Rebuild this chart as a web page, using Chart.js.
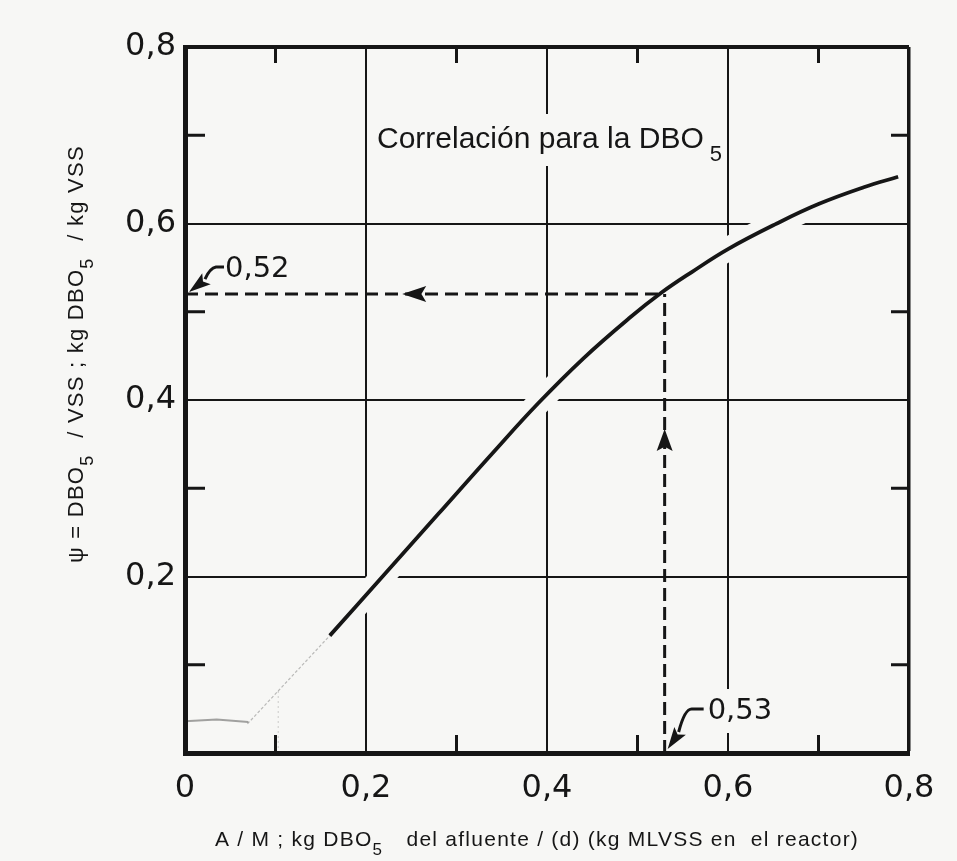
<!DOCTYPE html>
<html><head><meta charset="utf-8">
<script src="https://cdn.jsdelivr.net/npm/chart.js@4"></script>
<style>html,body{margin:0;padding:0;background:#f7f7f5;}canvas{display:block}</style>
</head><body>
<canvas id="c" width="957" height="861"></canvas>
<script>
// ---- data ----
const xTicks = [0, 0.2, 0.4, 0.6, 0.8];
const yTicks = [0.2, 0.4, 0.6, 0.8];
const minorTicks = [0.1, 0.3, 0.5, 0.7];
const curveX = [0.16, 0.22, 0.28, 0.34, 0.39, 0.44, 0.49, 0.527, 0.56, 0.60, 0.654, 0.70, 0.75, 0.788];
const curveY = [0.133, 0.202, 0.271, 0.340, 0.396, 0.447, 0.492, 0.522, 0.545, 0.571, 0.600, 0.622, 0.641, 0.653];
const sketchX = [0.069, 0.16];
const sketchY = [0.033, 0.133];
const smudgeX = [0, 0.035, 0.07];
const smudgeY = [0.036, 0.038, 0.035];
const guideX = [0.103, 0.103];
const guideY = [0, 0.072];
const readA = 0.53;        // A/M read value
const readPsi = 0.52;      // psi read value
const curveHitX = 0.527;
const arrowLeftAt = [0.24, 0.52];
const arrowUpAt = [0.53, 0.367];
const labelA = '0,53';
const labelPsi = '0,52';
const noteText = ['Correlación para la DBO', '5'];
const xTitleParts = [['A / M ; kg DBO', false], ['5', true], ['   del afluente / (d) (kg MLVSS en  el reactor)', false]];
const yTitleParts = [['ψ = DBO', false], ['5', true], ['  / VSS ; kg DBO', false], ['5', true], ['  / kg VSS', false]];

// ---- styling ----
const BG = '#f7f7f5';
const INK = '#161616';
const fmt = v => Math.abs(v) < 1e-9 ? '0' : Number(v).toFixed(1).replace('.', ',');
const pts = (xs, ys) => xs.map((x, i) => ({x, y: ys[i]}));
const curveData = pts(curveX, curveY);

function arrowHead(ctx, tx, ty, dx, dy, len, hw) {
  const n = Math.hypot(dx, dy); dx /= n; dy /= n;
  const bx = tx - dx * len, by = ty - dy * len;
  ctx.beginPath();
  ctx.moveTo(tx, ty);
  ctx.lineTo(bx - dy * hw, by + dx * hw);
  ctx.lineTo(bx + dx * len * 0.2, by + dy * len * 0.2);
  ctx.lineTo(bx + dy * hw, by - dx * hw);
  ctx.closePath();
  ctx.fill();
}

function drawParts(ctx, parts, size, family) {
  let x = 0;
  parts.forEach(([t, sub]) => {
    ctx.font = (sub ? Math.round(size * 0.8) : size) + 'px ' + family;
    ctx.fillText(t, x, sub ? size * 0.45 : 0);
    x += ctx.measureText(t).width + (sub ? 2 : 0);
  });
}

const decor = {
  id: 'decor',
  beforeDraw(chart) {
    const c = chart.ctx;
    c.save(); c.fillStyle = BG; c.fillRect(0, 0, chart.width, chart.height); c.restore();
  },
  afterDatasetsDraw(chart) {
    const c = chart.ctx, xs = chart.scales.x, ys = chart.scales.y, a = chart.chartArea;
    c.save();
    c.strokeStyle = INK; c.fillStyle = INK; c.lineWidth = 3; c.lineCap = 'butt';
    // inward minor ticks
    minorTicks.forEach(v => {
      const px = xs.getPixelForValue(v), py = ys.getPixelForValue(v);
      c.beginPath();
      c.moveTo(px, a.top); c.lineTo(px, a.top + 16);
      c.moveTo(px, a.bottom); c.lineTo(px, a.bottom - 18);
      c.moveTo(a.left, py); c.lineTo(a.left + 20, py);
      c.moveTo(a.right, py); c.lineTo(a.right - 18, py);
      c.stroke();
    });
    // arrowheads on reading lines
    arrowHead(c, xs.getPixelForValue(arrowLeftAt[0]), ys.getPixelForValue(arrowLeftAt[1]), -1, 0, 24, 8);
    arrowHead(c, xs.getPixelForValue(arrowUpAt[0]), ys.getPixelForValue(arrowUpAt[1]), 0, -1, 22, 8);

    // note text with background
    c.fillStyle = BG;
    c.fillRect(372, 114, 352, 52);
    c.fillStyle = INK;
    c.textBaseline = 'alphabetic'; c.textAlign = 'left';
    c.font = '30px "Liberation Sans", Arial, sans-serif';
    c.fillText(noteText[0], 377, 148);
    const w0 = c.measureText(noteText[0]).width;
    c.font = '22px "Liberation Sans", Arial, sans-serif';
    c.fillText(noteText[1], 377 + w0 + 6, 161);

    // 0,52 label with leader
    const t1x = xs.getPixelForValue(0) + 4, t1y = ys.getPixelForValue(readPsi) - 2;
    c.lineWidth = 3;
    c.beginPath();
    c.moveTo(t1x + 35, t1y - 25); c.lineTo(t1x + 27, t1y - 25);
    c.quadraticCurveTo(t1x + 21, t1y - 24, t1x + 16, t1y - 13);
    c.stroke();
    arrowHead(c, t1x, t1y, -17, 13, 22, 7);
    c.font = '29px "DejaVu Sans", sans-serif';
    c.textBaseline = 'middle';
    c.fillText(labelPsi, t1x + 36, t1y - 23);

    // 0,53 label with leader
    const t2x = xs.getPixelForValue(readA) + 3, t2y = ys.getPixelForValue(0) - 4;
    c.fillStyle = BG; c.fillRect(t2x + 34, t2y - 60, 72, 44);
    c.fillStyle = INK;
    c.beginPath();
    c.moveTo(t2x + 36, t2y - 40); c.lineTo(t2x + 24, t2y - 40);
    c.quadraticCurveTo(t2x + 17, t2y - 40, t2x + 11, t2y - 17);
    c.stroke();
    arrowHead(c, t2x, t2y, -11, 16, 22, 7);
    c.fillText(labelA, t2x + 40, t2y - 38);
    c.restore();
  },
  afterDraw(chart) {
    const c = chart.ctx;
    c.save();
    c.fillStyle = INK; c.textBaseline = 'alphabetic'; c.textAlign = 'left';
    if ('letterSpacing' in c) c.letterSpacing = '1.25px';
    // x title
    c.save(); c.translate(215, 846);
    drawParts(c, xTitleParts, 21, '"Liberation Sans", Arial, sans-serif');
    c.restore();
    // y title
    c.save(); c.translate(83, 563); c.rotate(-Math.PI / 2);
    drawParts(c, yTitleParts, 22, '"Liberation Sans", Arial, sans-serif');
    c.restore();
    if ('letterSpacing' in c) c.letterSpacing = '0px';
    c.restore();
  }
};

new Chart(document.getElementById('c'), {
  type: 'line',
  data: {
    datasets: [
      {label: 'ψ DBO5', data: curveData, borderColor: INK, borderWidth: 3.8, pointRadius: 0, tension: 0.4, order: 1},
      {label: 'lectura ψ', data: [{x: 0, y: readPsi}, {x: curveHitX, y: readPsi}], borderColor: INK, borderWidth: 3, borderDash: [13, 7], pointRadius: 0, order: 2},
      {label: 'lectura A/M', data: [{x: readA, y: 0}, {x: readA, y: readPsi}], borderColor: INK, borderWidth: 3, borderDash: [13, 6], pointRadius: 0, order: 2},
      {label: 'extrapolación', data: pts(sketchX, sketchY), borderColor: 'rgba(0,0,0,0.25)', borderWidth: 1.2, borderDash: [3, 2], pointRadius: 0, order: 3},
      {label: 'trazo', data: pts(smudgeX, smudgeY), borderColor: 'rgba(0,0,0,0.35)', borderWidth: 2, pointRadius: 0, order: 3},
      {label: 'guía', data: pts(guideX, guideY), borderColor: 'rgba(0,0,0,0.18)', borderWidth: 1, borderDash: [2, 3], pointRadius: 0, order: 3},
      {label: 'halo', data: curveData, borderColor: BG, borderWidth: 24, pointRadius: 0, tension: 0.4, order: 9}
    ]
  },
  options: {
    responsive: false, animation: false, devicePixelRatio: 1,
    layout: {padding: {top: 47, right: 48, left: 0, bottom: 0}},
    plugins: {legend: {display: false}, tooltip: {enabled: false}},
    scales: {
      x: {
        type: 'linear', min: 0, max: 0.8,
        afterBuildTicks: s => { s.ticks = xTicks.map(v => ({value: v})); },
        afterFit: s => { s.height = 108; },
        ticks: {callback: v => fmt(v), font: {family: 'DejaVu Sans', size: 32}, color: INK, padding: 16, maxRotation: 0, autoSkip: false},
        grid: {drawTicks: false, color: c => (c.tick && c.tick.value === 0) ? 'rgba(0,0,0,0)' : INK, lineWidth: c => (c.tick && c.tick.value >= 0.79) ? 3.5 : 2},
        border: {display: true, color: INK, width: 5, z: 1}
      },
      y: {
        type: 'linear', min: 0, max: 0.8,
        afterBuildTicks: s => { s.ticks = yTicks.map(v => ({value: v})); },
        afterFit: s => { s.width = 185; },
        ticks: {callback: v => fmt(v), font: {family: 'DejaVu Sans', size: 32}, color: INK, padding: 9, autoSkip: false},
        grid: {drawTicks: false, color: INK, lineWidth: c => (c.tick && c.tick.value >= 0.79) ? 4 : 2},
        border: {display: true, color: INK, width: 5, z: 1}
      }
    }
  },
  plugins: [decor]
});
</script>
</body></html>
